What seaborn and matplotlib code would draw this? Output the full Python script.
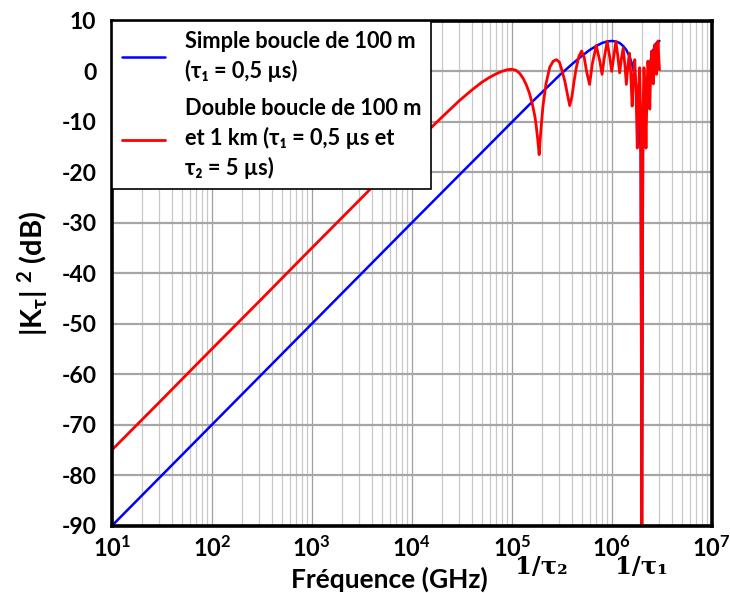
import numpy as np
import pandas as pd
import matplotlib
matplotlib.use("Agg")
import matplotlib.pyplot as plt
import seaborn as sns
from matplotlib.ticker import FixedLocator, NullFormatter, FixedFormatter

# ---------------- data ----------------
freq_simple = [10, 100, 1e3, 1e4, 3e4, 5e4, 1e5, 1.5e5, 2e5, 3e5, 4e5, 5e5, 6e5,
               7e5, 8e5, 9e5, 1e6, 1.1e6, 1.2e6, 1.3e6, 1.4e6, 1.5e6, 1.6e6, 1.7e6,
               1.8e6, 1.9e6, 1.95e6, 2e6, 2.05e6, 2.1e6, 2.2e6, 2.4e6, 2.6e6, 2.8e6, 3e6]
db_simple = [-90, -70, -50, -30, -20.5, -16.1, -10.1, -6.6, -4.2, -0.8, 1.4, 3.0, 4.2,
             5.0, 5.6, 5.9, 6.0, 5.9, 5.6, 5.0, 4.2, 3.0, 1.4, -0.8,
             -4.2, -10.1, -16.1, -95, -16.1, -10.1, -4.2, 1.4, 4.2, 5.6, 6.0]

freq_double = [10, 30, 100, 300, 1e3, 3e3, 1e4, 1.5e4, 2e4, 3e4, 4e4, 5e4, 6e4, 7e4,
               8e4, 9e4, 1e5, 1.1e5, 1.2e5, 1.3e5, 1.4e5, 1.5e5, 1.6e5, 1.7e5, 1.75e5,
               1.82e5, 1.88e5, 1.95e5, 2.05e5, 2.2e5, 2.4e5, 2.6e5, 2.8e5, 3e5, 3.2e5, 3.4e5,
               3.6e5, 3.8e5, 4e5, 4.2e5, 4.4e5, 4.7e5, 5e5, 5.3e5, 5.6e5, 6e5, 6.4e5, 7e5,
               7.6e5, 8e5, 8.4e5, 9e5, 9.6e5, 1e6, 1.05e6, 1.1e6, 1.15e6, 1.2e6, 1.25e6,
               1.3e6, 1.35e6, 1.4e6, 1.45e6, 1.5e6, 1.55e6, 1.6e6, 1.65e6, 1.7e6, 1.75e6,
               1.8e6, 1.85e6, 1.9e6, 1.95e6, 2e6, 2.05e6, 2.1e6, 2.15e6, 2.2e6, 2.25e6,
               2.3e6, 2.35e6, 2.4e6, 2.45e6, 2.5e6, 2.55e6, 2.6e6, 2.65e6, 2.7e6, 2.75e6,
               2.8e6, 2.85e6, 2.9e6, 2.95e6, 3e6]
db_double = [-75.0, -65.5, -55.0, -45.5, -35.0, -25.5, -15.0, -11.5, -9.1, -5.8, -3.7,
             -2.2, -1.2, -0.5, 0.0, 0.3, 0.4, 0.2, -0.4, -1.4, -2.7, -4.3, -6.3, -8.8,
             -10.5, -13.5, -16.5, -12.0, -7.0, -2.5, 0.8, 2.0, 2.3, 1.8, 0.0, -2.0,
             -4.5, -6.8, -5.0, -2.0, 0.5, 3.0, 4.0, 2.8, 0.0, -2.6, 1.5, 5.1,
             2.0, -0.6, 2.5, 5.9, 2.5, 0.0, 3.0, 5.9, 3.0, -0.3, 2.5,
             4.6, 1.5, -2.6, 1.0, 3.6, -0.5, -6.9, -1.0, 2.3, -4.0,
             -15.2, -4.0, 0.7, -10.0, -95, -10.0, 0.7, -4.0, -15.2, -4.0,
             2.0, -1.0, -7.5, -0.5, 4.0, 1.0, -2.5, 1.5, 5.3, 2.5,
             -0.6, 3.0, 6.0, 3.0, 0.3]

label_simple = "Simple boucle de 100 m\n(τ₁ = 0,5 µs)"
label_double = "Double boucle de 100 m\net 1 km (τ₁ = 0,5 µs et\nτ₂ = 5 µs)"

x_ticks = [1e1, 1e2, 1e3, 1e4, 1e5, 1e6, 1e7]
x_tick_labels = [r"$\mathbf{10^{1}}$", r"$\mathbf{10^{2}}$", r"$\mathbf{10^{3}}$",
                 r"$\mathbf{10^{4}}$", r"$\mathbf{10^{5}}$", r"$\mathbf{10^{6}}$",
                 r"$\mathbf{10^{7}}$"]
y_ticks = [-90, -80, -70, -60, -50, -40, -30, -20, -10, 0, 10]
marker_freqs = [2e5, 2e6]
marker_labels = ["1/τ₂", "1/τ₁"]

# ---------------- styling ----------------
sns.set_style("white")
plt.rcParams["font.family"] = ["Lato", "DejaVu Sans"]
plt.rcParams["font.weight"] = "bold"
plt.rcParams["text.color"] = "black"
plt.rcParams["axes.labelcolor"] = "black"
plt.rcParams["xtick.color"] = "black"
plt.rcParams["ytick.color"] = "black"
plt.rcParams["axes.unicode_minus"] = False
plt.rcParams["mathtext.fontset"] = "custom"
plt.rcParams["mathtext.rm"] = "Lato:weight=bold"
plt.rcParams["mathtext.bf"] = "Lato:weight=bold"
plt.rcParams["mathtext.it"] = "Lato:weight=bold"
plt.rcParams["mathtext.default"] = "bf"
plt.rcParams["mathtext.fallback"] = "stixsans"

fig = plt.figure(figsize=(7.30, 5.93), dpi=100)
ax = fig.add_axes([0.153, 0.113, 0.822, 0.852])
ax.set_xscale("log")

df_s = pd.DataFrame({"f": freq_simple, "db": db_simple})
df_d = pd.DataFrame({"f": freq_double, "db": db_double})
sns.lineplot(data=df_s, x="f", y="db", ax=ax, color="#0000ff", lw=1.8,
             label=label_simple, zorder=3, estimator=None)
sns.lineplot(data=df_d, x="f", y="db", ax=ax, color="#ff0000", lw=2.0,
             label=label_double, zorder=4, estimator=None)

ax.set_xlim(10, 1e7)
ax.set_ylim(-90, 10)

# grid
minor = []
for d in range(1, 7):
    for k in range(2, 10):
        minor.append(k * 10 ** d)
for m in minor:
    ax.axvline(m, color="#c8c8c8", lw=0.9, zorder=1)
for m in x_ticks:
    ax.axvline(m, color="#a0a0a0", lw=0.9, zorder=1)
for yv in y_ticks:
    ax.axhline(yv, color="#a6a6a6", lw=1.6, zorder=1)

ax.xaxis.set_major_locator(FixedLocator(x_ticks))
ax.xaxis.set_major_formatter(FixedFormatter(x_tick_labels))
ax.xaxis.set_minor_locator(FixedLocator(marker_freqs))
ax.xaxis.set_minor_formatter(NullFormatter())
ax.yaxis.set_major_locator(FixedLocator(y_ticks))
ax.tick_params(axis="both", which="major", direction="out", length=6, width=1,
               color="#404040", labelcolor="black")
ax.tick_params(axis="y", which="major", labelsize=16.5, pad=5)
ax.tick_params(axis="x", which="minor", direction="out", length=5, width=1,
               color="#404040")
ax.tick_params(axis="x", which="major", labelsize=17, pad=1)

for sp in ax.spines.values():
    sp.set_linewidth(2.6)
    sp.set_color("black")
    sp.set_zorder(6)

ax.set_xlabel("Fréquence (GHz)", fontsize=19, fontweight="bold", color="black")
ax.set_ylabel(r"|K$_{\tau}$| $^{2}$ (dB)", fontsize=21, fontweight="bold",
              labelpad=8, color="black")
ax.xaxis.set_label_coords(0.462, -0.08)

for fx, txt in zip(marker_freqs, marker_labels):
    ax.text(fx, -0.058, txt, transform=ax.get_xaxis_transform(), ha="center",
            va="top", fontsize=17.5, fontweight="bold", color="black",
            family=["DejaVu Serif", "DejaVu Sans"])

leg = ax.legend(loc="upper left", bbox_to_anchor=(0.0, 1.0), borderaxespad=0.0,
                frameon=True, fancybox=False, edgecolor="black", framealpha=1,
                prop={"weight": "bold", "size": 15.7},
                handlelength=2.0, handletextpad=0.9, labelspacing=0.75,
                borderpad=0.45)
for t in leg.get_texts():
    t.set_linespacing(1.45)
    t.set_color("black")
leg.get_frame().set_linewidth(1.2)
leg.set_zorder(10)

fig.savefig("out.png", dpi=100)
